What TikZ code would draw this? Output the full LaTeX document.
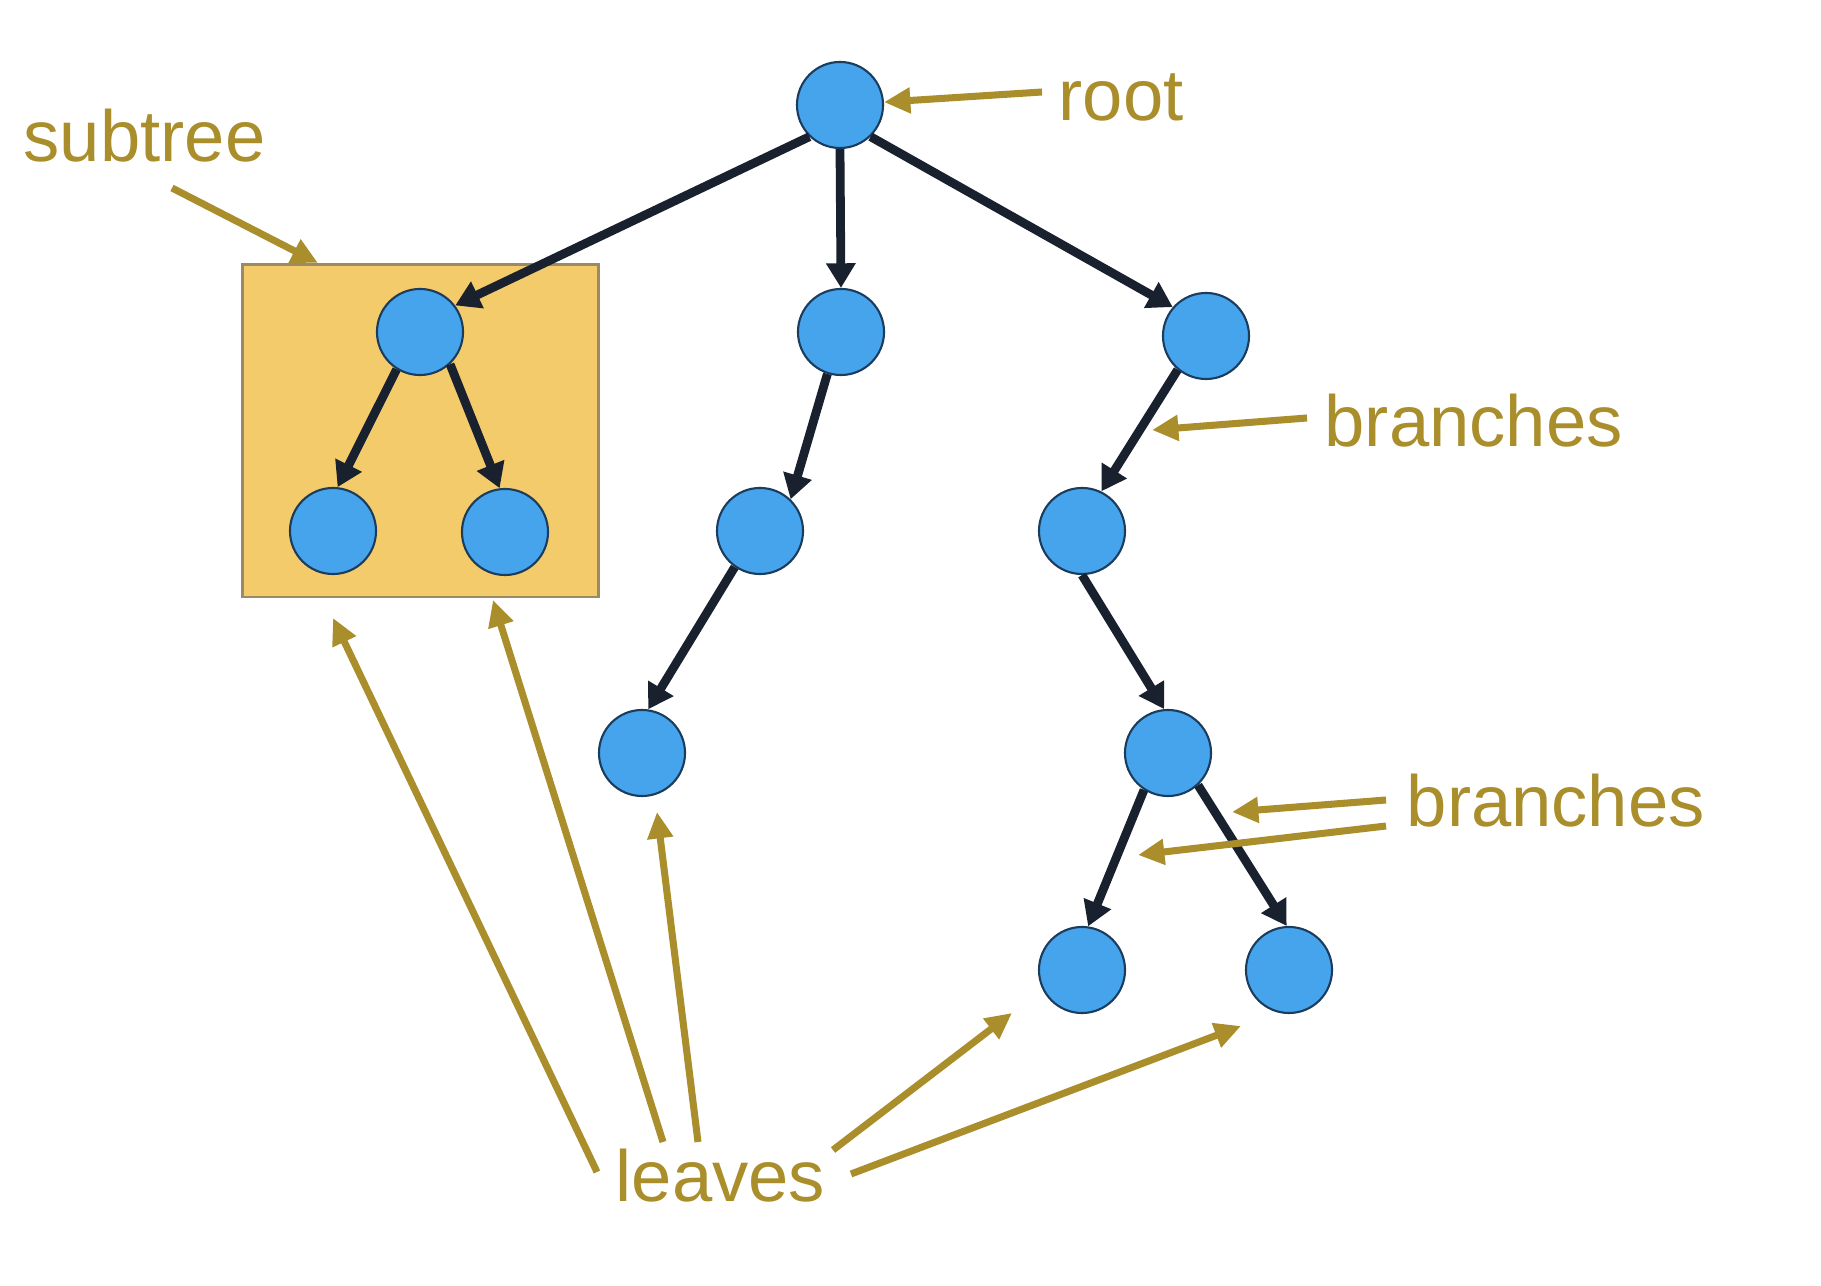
\documentclass[tikz,border=0pt]{standalone}
\usepackage{fontspec}
\setmainfont{Liberation Sans}
\usetikzlibrary{arrows.meta}
\definecolor{nodeblue}{HTML}{45A4EC}
\definecolor{nodeline}{HTML}{1C3C5E}
\definecolor{darkline}{HTML}{19212F}
\definecolor{gold}{HTML}{A98E2B}
\definecolor{boxfill}{HTML}{F3CB6B}
\definecolor{boxline}{HTML}{9A8A66}
\begin{document}
\begin{tikzpicture}[x=0.01cm,y=-0.01cm,
  vert/.style={circle,draw=nodeline,line width=0.6pt,fill=nodeblue,minimum size=0.86cm,inner sep=0pt},
  subbox/.style={draw=boxline,line width=0.8pt,fill=boxfill,minimum width=3.55cm,minimum height=3.32cm,inner sep=0pt},
  branchline/.style={darkline,line width=2.5pt,-{Triangle[length=7pt,width=8pt]}},
  hint/.style={gold,line width=2pt,-{Triangle[length=7.5pt,width=7pt]}},
  word/.style={gold,font=\fontsize{20.6pt}{24pt}\selectfont,inner sep=0pt,anchor=base west}
]
\useasboundingbox (0,0) rectangle (1821,1286);

\node[subbox] (sub) at (420.5,431) {};

\node[vert] (root) at (840,105) {};
\node[vert] (a) at (420,332) {};
\node[vert] (a1) at (333,531) {};
\node[vert] (a2) at (505,532) {};
\node[vert] (b) at (841,332) {};
\node[vert] (b1) at (760,531) {};
\node[vert] (b2) at (642,753) {};
\node[vert] (c) at (1206,336) {};
\node[vert] (c1) at (1082,531) {};
\node[vert] (c2) at (1168,753) {};
\node[vert] (c3) at (1082,970) {};
\node[vert] (c4) at (1289,970) {};

\node[word] (lroot) at (1058,121) {root};
\node[word] (lsub) at (23,162) {subtree};
\node[word] (lbr1) at (1324,447) {branches};
\node[word] (lbr2) at (1406,827) {branches};
\node[word] (lleaves) at (615,1202) {leaves};

\draw[branchline] (root.226) -- (a.37);
\draw[branchline] (root.south) -- (b.north);
\draw[branchline] (root.314) -- (c.139);
\draw[branchline] (a.238) -- (a1.84);
\draw[branchline] (a.313) -- (a2.97);
\draw[branchline] (b.252) -- (b1.46);
\draw[branchline] (b1.235) -- (b2.82);
\draw[branchline] (c.230) -- (c1.64);
\draw[branchline] (c1.270) -- (c2.95);
\draw[branchline] (c2.237) -- (c3.82);
\draw[branchline] (c2.313) -- (c4.93);

%\coordinate (x) at (0,0);
\coordinate (troot) at (1042,92);
\coordinate (tsub) at (172,188);
\coordinate (hsub) at (318,263);
\coordinate (tbr1) at (1307,418);
\coordinate (hbr1) at (1152,430);
\coordinate (tbr2a) at (1386,800);
\coordinate (hbr2a) at (1232,812);
\coordinate (tbr2b) at (1386,826);
\coordinate (hbr2b) at (1138,855);
\coordinate (tl1) at (597,1172);
\coordinate (hl1) at (333,618);
\coordinate (tl2) at (663,1142);
\coordinate (hl2) at (493,600);
\coordinate (tl3) at (698,1142);
\coordinate (hl3) at (657,812);
\coordinate (tl4) at (833,1150);
\coordinate (hl4) at (1012,1013);
\coordinate (tl5) at (851,1174);
\coordinate (hl5) at (1241,1026);

\draw[hint] (troot) -- (root);
\draw[hint] (tsub) -- (hsub);
\draw[hint] (tbr1) -- (hbr1);
\draw[hint] (tbr2a) -- (hbr2a);
\draw[hint] (tbr2b) -- (hbr2b);
\draw[hint] (tl1) -- (hl1);
\draw[hint] (tl2) -- (hl2);
\draw[hint] (tl3) -- (hl3);
\draw[hint] (tl4) -- (hl4);
\draw[hint] (tl5) -- (hl5);

\end{tikzpicture}
\end{document}
